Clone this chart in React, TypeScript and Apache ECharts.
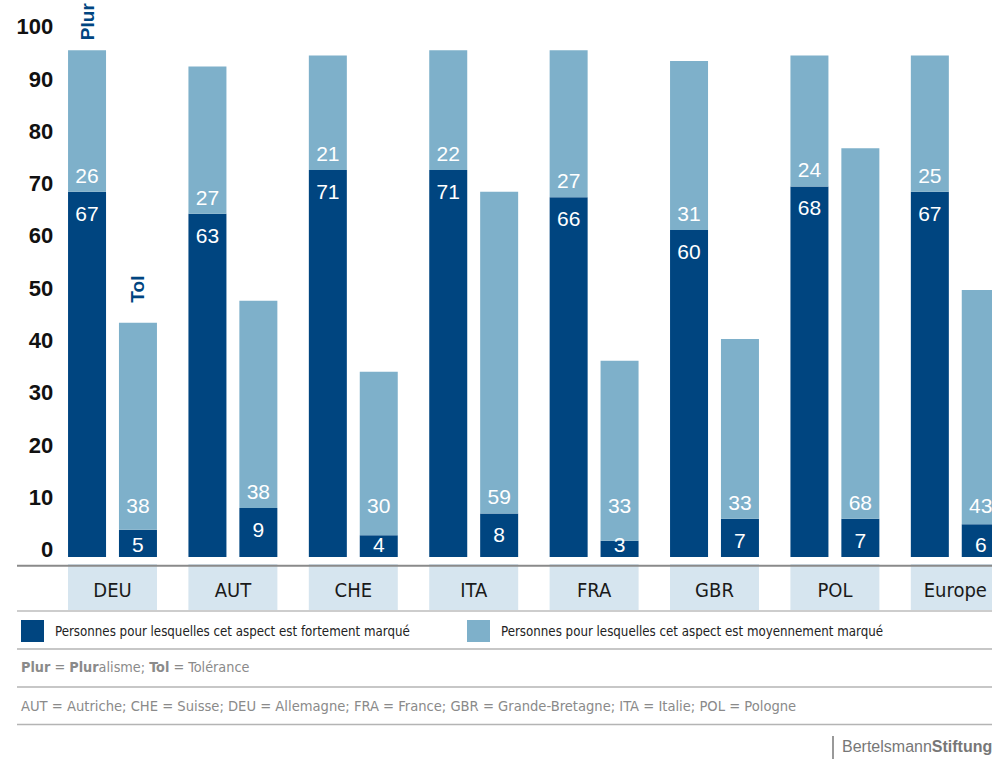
import React, { useEffect, useRef } from "react";
import * as echarts from "echarts";

const CATEGORIES = ["DEU", "AUT", "CHE", "ITA", "FRA", "GBR", "POL", "Europe"];
const PLUR_STRONG = [67, 63, 71, 71, 66, 60, 68, 67];
const PLUR_MEDIUM = [26, 27, 21, 22, 27, 31, 24, 25];
const TOL_STRONG = [5, 9, 4, 8, 3, 7, 7, 6];
const TOL_MEDIUM = [38, 38, 30, 59, 33, 33, 68, 43];
const Y_TICKS = [0, 10, 20, 30, 40, 50, 60, 70, 80, 90, 100];

const NAME_STRONG = "Personnes pour lesquelles cet aspect est fortement marqué";
const NAME_MEDIUM = "Personnes pour lesquelles cet aspect est moyennement marqué";

const DARK = "#004580";
const LIGHT = "#7eb0ca";
const BOX = "#d6e5ef";
const COND = "'DejaVu Sans Condensed', 'DejaVu Sans', sans-serif";
const SANS = "'Liberation Sans', Arial, sans-serif";

const GRID_TOP = 12;
const GRID_BOTTOM_Y = 557;
const PX = (GRID_BOTTOM_Y - GRID_TOP) / 100;

export default function App() {
  const ref = useRef<HTMLDivElement>(null);

  useEffect(() => {
    if (!ref.current) return;
    const chart = echarts.init(ref.current, undefined, { renderer: "svg" });

    const valueLabel = {
      show: true,
      color: "#ffffff",
      fontSize: 21,
      fontFamily: SANS,
    };

    const plurStrong = PLUR_STRONG.map((v) => ({
      value: v,
      label: { ...valueLabel, position: "insideTop", distance: 11 },
    }));
    const plurMedium = PLUR_MEDIUM.map((v) => ({
      value: v,
      label: { ...valueLabel, position: "insideBottom", distance: 6 },
    }));
    const tolStrong = TOL_STRONG.map((v) => {
      const small = v * PX < 34.5;
      return {
        value: v,
        label: {
          ...valueLabel,
          position: small ? "insideBottom" : "insideTop",
          distance: small ? 2.5 : 11,
        },
      };
    });
    const tolMedium = TOL_MEDIUM.map((v, i) => ({
      value: v,
      label: {
        ...valueLabel,
        position: "insideBottom",
        distance: Math.max(6, 41.5 - TOL_STRONG[i] * PX),
      },
    }));

    const tagLabel = (text: string, distance: number) => ({
      show: true,
      position: "top",
      rotate: 90,
      align: "left",
      verticalAlign: "middle",
      distance,
      formatter: text,
      color: DARK,
      fontWeight: "bold",
      fontSize: 19,
      fontFamily: SANS,
    });

    const common = {
      type: "bar",
      barWidth: 38,
      barGap: "34%",
      xAxisIndex: 0,
      yAxisIndex: 0,
    };

    const lineStyle = { stroke: "#b4b4b4", lineWidth: 1.5 };
    const legendText = { fontSize: 13.2, color: "#222222", fontFamily: COND, padding: [0, 0, 0, 6] };

    chart.setOption({
      animation: false,
      grid: {
        left: 52.3,
        right: -23.5,
        top: GRID_TOP,
        bottom: 759 - GRID_BOTTOM_Y,
        outerBoundsMode: "none",
        containLabel: false,
      },
      xAxis: {
        type: "category",
        data: CATEGORIES,
        axisLine: { show: false },
        axisTick: { show: false },
        axisLabel: {
          interval: 0,
          margin: 7,
          color: "#1a1a1a",
          fontSize: 20,
          fontFamily: COND,
          backgroundColor: BOX,
          width: 89,
          height: 40,
          lineHeight: 40,
          padding: [6, 0, 0, 0],
          align: "center",
        },
      },
      yAxis: [
        {
          type: "value",
          min: 0,
          max: 100,
          show: false,
          splitLine: { show: false },
        },
        {
          type: "value",
          min: -1.435,
          max: 102.87,
          position: "left",
          axisLine: { show: false },
          axisTick: { show: false },
          splitLine: { show: false },
          axisLabel: {
            customValues: Y_TICKS,
            margin: -1,
            color: "#111111",
            fontSize: 22,
            fontWeight: "bold",
            fontFamily: SANS,
          },
        },
      ],
      legend: [
        {
          data: [NAME_STRONG],
          left: 21,
          top: 620,
          padding: 0,
          icon: "rect",
          itemWidth: 23,
          itemHeight: 22,
          selectedMode: false,
          textStyle: legendText,
        },
        {
          data: [NAME_MEDIUM],
          left: 467,
          top: 620,
          padding: 0,
          icon: "rect",
          itemWidth: 23,
          itemHeight: 22,
          selectedMode: false,
          textStyle: legendText,
        },
      ],
      series: [
        { ...common, name: NAME_STRONG, stack: "plur", data: plurStrong, itemStyle: { color: DARK } },
        { ...common, name: NAME_MEDIUM, stack: "plur", data: plurMedium, itemStyle: { color: LIGHT } },
        { ...common, name: NAME_STRONG, stack: "tol", data: tolStrong, itemStyle: { color: DARK } },
        { ...common, name: NAME_MEDIUM, stack: "tol", data: tolMedium, itemStyle: { color: LIGHT } },
        {
          ...common,
          name: "plurTag",
          stack: "plur",
          silent: true,
          data: CATEGORIES.map((_, i) => (i === 0 ? 0 : "-")),
          itemStyle: { color: "rgba(0,0,0,0)" },
          label: tagLabel("Plur", 10),
        },
        {
          ...common,
          name: "tolTag",
          stack: "tol",
          silent: true,
          data: CATEGORIES.map((_, i) => (i === 0 ? 0 : "-")),
          itemStyle: { color: "rgba(0,0,0,0)" },
          label: tagLabel("Tol", 20),
        },
      ],
      graphic: [
        {
          type: "line",
          z: 100,
          shape: { x1: 17, y1: 565.7, x2: 992, y2: 565.7 },
          style: { stroke: "#8a8a8a", lineWidth: 2 },
        },
        {
          type: "line",
          z: 100,
          shape: { x1: 17, y1: 611, x2: 992, y2: 611 },
          style: { stroke: "#bdbdbd", lineWidth: 1.5 },
        },
        { type: "line", z: 100, shape: { x1: 17, y1: 649, x2: 992, y2: 649 }, style: lineStyle },
        { type: "line", z: 100, shape: { x1: 17, y1: 687, x2: 992, y2: 687 }, style: lineStyle },
        { type: "line", z: 100, shape: { x1: 17, y1: 724.5, x2: 992, y2: 724.5 }, style: lineStyle },
        {
          type: "text",
          z: 100,
          x: 21,
          y: 667,
          style: {
            text: "{b|Plur} = {b|Plur}alisme; {b|Tol} = Tolérance",
            verticalAlign: "middle",
            fill: "#8a8a8a",
            fontSize: 14.3,
            fontFamily: COND,
            rich: {
              b: { fontWeight: "bold", fill: "#8a8a8a", fontSize: 14.3, fontFamily: COND },
            },
          },
        },
        {
          type: "text",
          z: 100,
          x: 21,
          y: 705,
          style: {
            text: "AUT = Autriche; CHE = Suisse; DEU = Allemagne; FRA = France; GBR = Grande-Bretagne; ITA = Italie; POL = Pologne",
            verticalAlign: "middle",
            fill: "#8a8a8a",
            fontSize: 14.6,
            fontFamily: COND,
          },
        },
        {
          type: "line",
          z: 100,
          shape: { x1: 833, y1: 736, x2: 833, y2: 759 },
          style: { stroke: "#777777", lineWidth: 1.5 },
        },
        {
          type: "text",
          z: 100,
          x: 842,
          y: 746,
          style: {
            text: "{a|Bertelsmann}{b|Stiftung}",
            verticalAlign: "middle",
            fill: "#777777",
            fontSize: 16,
            fontFamily: SANS,
            rich: {
              a: { fill: "#777777", fontSize: 16, fontFamily: SANS },
              b: { fill: "#777777", fontSize: 16, fontWeight: "bold", fontFamily: SANS },
            },
          },
        },
      ],
    });

    return () => chart.dispose();
  }, []);

  return (
    <div
      ref={ref}
      style={{ position: "absolute", left: 0, top: 0, width: 992, height: 759, background: "#ffffff" }}
    />
  );
}
